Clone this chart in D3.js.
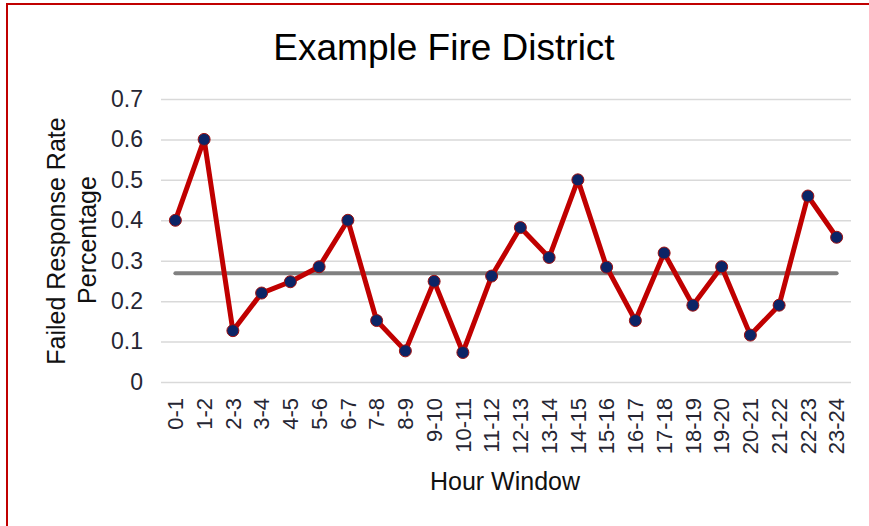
<!DOCTYPE html>
<html>
<head>
<meta charset="utf-8">
<title>Example Fire District</title>
<script src="https://cdn.jsdelivr.net/npm/d3@7"></script>
<style>
  body { margin: 0; background: #fff; }
  svg { display: block; font-family: "Liberation Sans", Arial, sans-serif; }
  .grid line { stroke: #d9d9d9; stroke-width: 1.5; }
  .ylabels text, .xlabels text { fill: #262633; }
</style>
</head>
<body>
<script>
// hour windows along the x axis
var hours = ["0-1", "1-2", "2-3", "3-4", "4-5", "5-6", "6-7", "7-8", "8-9", "9-10",
             "10-11", "11-12", "12-13", "13-14", "14-15", "15-16", "16-17", "17-18",
             "18-19", "19-20", "20-21", "21-22", "22-23", "23-24"];
// failed response rate per hour window
var failRate = [0.40, 0.60, 0.127, 0.22, 0.248, 0.285, 0.40, 0.152, 0.077, 0.249,
                0.073, 0.262, 0.382, 0.308, 0.50, 0.284, 0.152, 0.319,
                0.19, 0.285, 0.116, 0.19, 0.46, 0.358];
// average rate (flat grey line)
var average = [0.269];
// y axis ticks
var yTicks = [0, 0.1, 0.2, 0.3, 0.4, 0.5, 0.6, 0.7];

var w = 869;
var h = 526;
var plot = {left: 161, right: 851, top: 99, bottom: 382};

var svg = d3.select("body")
            .append("svg")
            .attr("width", w)
            .attr("height", h);

// red frame, only left and top edges fall inside the window
svg.append("rect")
   .attr("x", 7)
   .attr("y", 4)
   .attr("width", w + 20)
   .attr("height", h + 20)
   .attr("fill", "none")
   .attr("stroke", "#c00000")
   .attr("stroke-width", 2);

var xScale = d3.scaleBand()
               .domain(hours)
               .range([plot.left, plot.right]);
var yScale = d3.scaleLinear()
               .domain([0, 0.7])
               .range([plot.bottom, plot.top]);

function xc(d) {
  return xScale(d) + xScale.bandwidth() / 2;
}

// gridlines + y labels
var yAxis = svg.append("g")
               .attr("class", "grid ylabels")
               .attr("transform", "translate(" + plot.left + ",0)")
               .call(d3.axisLeft(yScale)
                       .tickValues(yTicks)
                       .tickFormat(function(d) { return String(d); })
                       .tickSize(-(plot.right - plot.left))
                       .tickPadding(18));
yAxis.select(".domain").remove();
yAxis.selectAll("text")
     .style("font-size", "23px");

// x labels, rotated
var xAxis = svg.append("g")
               .attr("class", "xlabels")
               .attr("transform", "translate(0," + plot.bottom + ")")
               .call(d3.axisBottom(xScale).tickSize(0));
xAxis.select(".domain").remove();
xAxis.selectAll("text")
     .attr("transform", "rotate(-90)")
     .attr("text-anchor", "end")
     .attr("x", -16)
     .attr("y", 0)
     .attr("dy", "0.35em")
     .style("font-size", "22px");

// average line
svg.selectAll(".avg")
   .data(average)
   .enter()
   .append("line")
   .attr("class", "avg")
   .attr("x1", xc(hours[0]))
   .attr("x2", xc(hours[hours.length - 1]))
   .attr("y1", function(d) { return yScale(d); })
   .attr("y2", function(d) { return yScale(d); })
   .attr("stroke", "#808080")
   .attr("stroke-width", 4)
   .attr("stroke-linecap", "round");

// the series line
var line = d3.line()
             .x(function(d, i) { return xc(hours[i]); })
             .y(function(d) { return yScale(d); });

svg.append("path")
   .datum(failRate)
   .attr("d", line)
   .attr("fill", "none")
   .attr("stroke", "#c00000")
   .attr("stroke-width", 5)
   .attr("stroke-linejoin", "round");

svg.selectAll(".dot")
   .data(failRate)
   .enter()
   .append("circle")
   .attr("class", "dot")
   .attr("cx", function(d, i) { return xc(hours[i]); })
   .attr("cy", function(d) { return yScale(d); })
   .attr("r", 6)
   .attr("fill", "#0c2466")
   .attr("stroke", "#a01010")
   .attr("stroke-width", 1);

// title
svg.append("text")
   .attr("x", 444)
   .attr("y", 60)
   .attr("text-anchor", "middle")
   .style("font-size", "37px")
   .style("fill", "#000")
   .text("Example Fire District");

// y axis title, two lines
var yTitle = svg.append("text")
                .attr("transform", "rotate(-90)")
                .attr("text-anchor", "middle")
                .style("font-size", "25px")
                .style("fill", "#111");
yTitle.append("tspan")
      .attr("x", -241)
      .attr("y", 65)
      .text("Failed Response Rate");
yTitle.append("tspan")
      .attr("x", -240)
      .attr("y", 96)
      .text("Percentage");

// x axis title
svg.append("text")
   .attr("x", 505)
   .attr("y", 490)
   .attr("text-anchor", "middle")
   .style("font-size", "25px")
   .style("fill", "#111")
   .text("Hour Window");
</script>
</body>
</html>
